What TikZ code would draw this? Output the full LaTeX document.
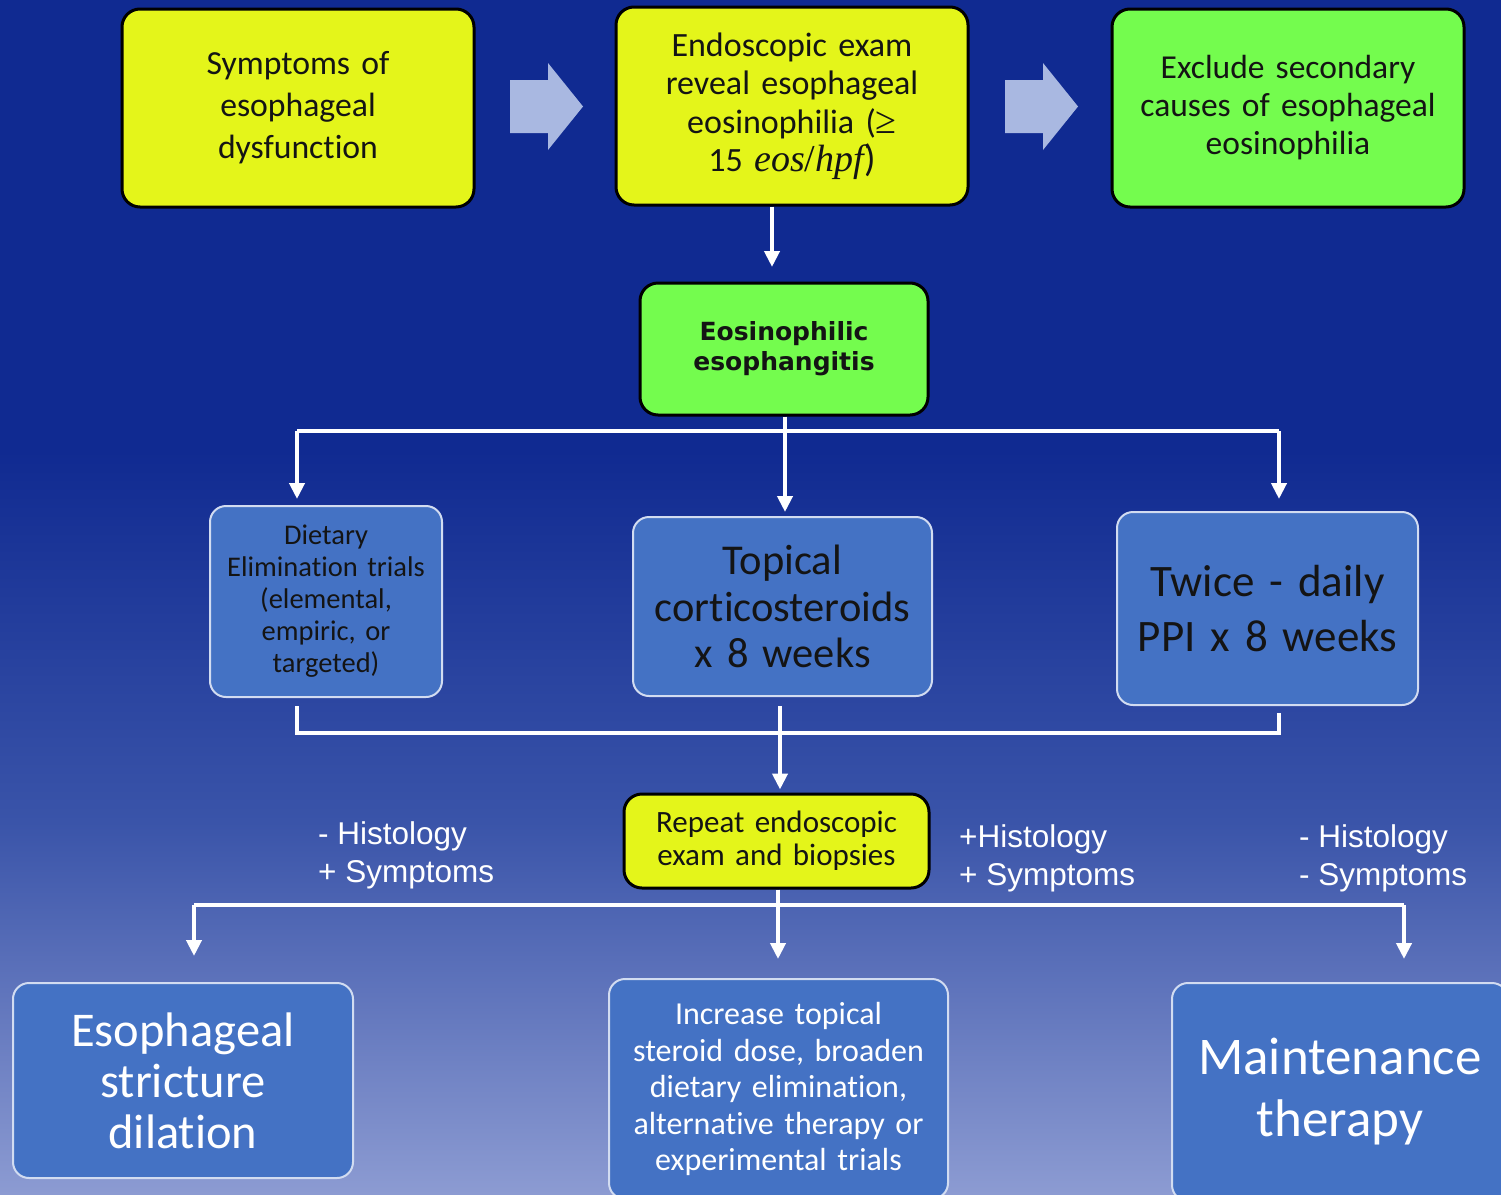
\documentclass[tikz,border=0pt]{standalone}
\usepackage{fontspec}
\setmainfont{Carlito}[Ligatures=NoCommon]
\newfontfamily\arialf{Liberation Sans}
\newfontfamily\verdf{DejaVu Sans}
\newfontfamily\serf{Liberation Serif}
\usetikzlibrary{arrows.meta}
\definecolor{bgtop}{HTML}{102A91}
\definecolor{bgmid}{HTML}{3A54A9}
\definecolor{bgbot}{HTML}{8C9BD2}
\definecolor{ybox}{HTML}{E4F51A}
\definecolor{gbox}{HTML}{74FC4E}
\definecolor{bbox}{HTML}{4472C4}
\definecolor{bedge}{HTML}{D2DCF1}
\definecolor{barrow}{HTML}{A9B8E1}
\tikzset{
  basebox/.style={rounded corners=18pt, align=center, inner sep=0pt, text=black!92},
  yelbox/.style={basebox, fill=ybox, draw=black, line width=3pt},
  grnbox/.style={basebox, fill=gbox, draw=black, line width=3pt},
  blubox/.style={basebox, fill=bbox, draw=bedge, line width=2pt, rounded corners=16pt},
  wline/.style={draw=white, line width=4pt},
  conn/.style={wline, -{Triangle[width=15pt,length=16pt]}},
  lbl/.style={text=white, align=left, anchor=west, inner sep=0pt,
     font=\arialf\fontsize{31.5}{38}\selectfont},
  blockarrow/.style={fill=barrow, draw=none}
}
\begin{document}
\begin{tikzpicture}[x=1pt,y=-1pt]
\path[use as bounding box] (0,0) rectangle (1501,1194);
\clip (0,0) rectangle (1501,1194);
% background
\fill[bgtop] (0,0) rectangle (1501,451);
\shade[top color=bgtop, bottom color=bgbot, middle color=bgmid] (0,450) rectangle (1501,1194);

% top row
\node[yelbox, minimum width=352pt, minimum height=198pt, text width=340pt,
      font=\fontsize{33.7}{42}\selectfont] (b1) at (298,108)
      {Symptoms of\\ esophageal\\ dysfunction};
\node[yelbox, minimum width=352pt, minimum height=198pt, text width=340pt,
      font=\fontsize{34}{38.5}\selectfont] (b2) at (792,106)
      {Endoscopic exam\\ reveal esophageal\\ eosinophilia ({\serf\fontsize{38}{38.5}\selectfont ≥}\\ 15 {\serf\itshape\fontsize{38}{38.5}\selectfont eos}{\serf\fontsize{38}{38.5}\selectfont /}{\serf\itshape\fontsize{38}{38.5}\selectfont hpf}{\fontsize{38}{38.5}\selectfont )}};
\node[grnbox, minimum width=352pt, minimum height=198pt, text width=340pt,
      font=\fontsize{33.5}{38}\selectfont] (b3) at (1288,108)
      {Exclude secondary\\ causes of esophageal\\ eosinophilia};

% block arrows
\fill[blockarrow] (510,80) -- (548,80) -- (548,63) -- (583,106.5) -- (548,150) -- (548,133) -- (510,133) -- cycle;
\fill[blockarrow] (1005,80) -- (1043,80) -- (1043,63) -- (1078,106.5) -- (1043,150) -- (1043,133) -- (1005,133) -- cycle;

% EoE
\node[grnbox, minimum width=288pt, minimum height=132pt, text width=270pt,
      font=\verdf\bfseries\fontsize{25}{30}\selectfont] (b4) at (784,349)
      {Eosinophilic\\ esophangitis};
\coordinate (a1) at (772,267);
\draw[conn] (b2.south -| a1) -- (a1);

% second row
\node[blubox, minimum width=232pt, minimum height=191pt, text width=228pt,
      font=\fontsize{28.5}{32}\selectfont] (b5) at (326,601.5)
      {Dietary\\ Elimination trials\\ (elemental,\\ empiric, or\\ targeted)};
\node[blubox, minimum width=299pt, minimum height=179pt, text width=295pt,
      font=\fontsize{42.5}{46.5}\selectfont] (b6) at (782.5,606.5)
      {Topical\\ corticosteroids\\ x 8 weeks};
\node[blubox, minimum width=301pt, minimum height=193pt, text width=295pt,
      font=\fontsize{45}{55}\selectfont] (b7) at (1267.5,608.5)
      {Twice - daily\\ PPI x 8 weeks};

\coordinate (jL) at (297,431);
\coordinate (jR) at (1279,431);
\coordinate (jC) at (785,431);
\draw[wline] (jL) -- (jR);
\draw[conn] (jL) -- ([yshift=6pt]b5.north -| jL);
\draw[conn] (jR) -- ([yshift=12pt]b7.north -| jR);
\draw[conn] (b4.south -| jC) -- ([yshift=4pt]b6.north -| jC);

% repeat endoscopy
\node[yelbox, minimum width=305pt, minimum height=94pt, text width=300pt,
      font=\fontsize{31}{33}\selectfont] (b8) at (776.5,841)
      {Repeat endoscopic\\ exam and biopsies};

\coordinate (kL) at (297,733);
\coordinate (kR) at (1279,733);
\coordinate (kC) at (780,733);
\draw[wline] ([yshift=-8pt]b5.south -| kL) -- (kL) -- (kR) -- ([yshift=-7pt]b7.south -| kR);
\draw[conn] ([yshift=-9pt]b6.south -| kC) -- ([yshift=3pt]b8.north -| kC);

% labels
\node[lbl] (l1) at (318,855) {- Histology\\+ Symptoms};
\node[lbl] (l2) at (959,858) {+Histology\\+ Symptoms};
\node[lbl] (l3) at (1299,858) {- Histology\\- Symptoms};

% bottom row
\node[blubox, minimum width=340pt, minimum height=195pt, text width=335pt,
      text=white, font=\fontsize{48.5}{51}\selectfont] (b9) at (183,1080.5)
      {Esophageal\\ stricture\\ dilation};
\node[blubox, minimum width=339pt, minimum height=220pt, text width=335pt,
      text=white, font=\fontsize{32}{36.5}\selectfont] (b10) at (778.5,1089)
      {Increase topical\\ steroid dose, broaden\\ dietary elimination,\\ alternative therapy or\\ experimental trials};
\node[blubox, minimum width=336pt, minimum height=218pt, text width=330pt,
      text=white, font=\fontsize{53}{62}\selectfont] (b11) at (1340,1092)
      {Maintenance\\ therapy};

\coordinate (mL) at (194,905);
\coordinate (mR) at (1404,905);
\coordinate (mC) at (778,905);
\draw[wline] (mL) -- (mR);
\draw[wline] (b8.south -| mC) -- (mC);
\draw[conn] (mC) -- ([yshift=19pt]b10.north -| mC);
\draw[conn] (mL) -- ([yshift=26pt]b9.north -| mL);
\draw[conn] (mR) -- ([yshift=23pt]b11.north -| mR);
\end{tikzpicture}
\end{document}
